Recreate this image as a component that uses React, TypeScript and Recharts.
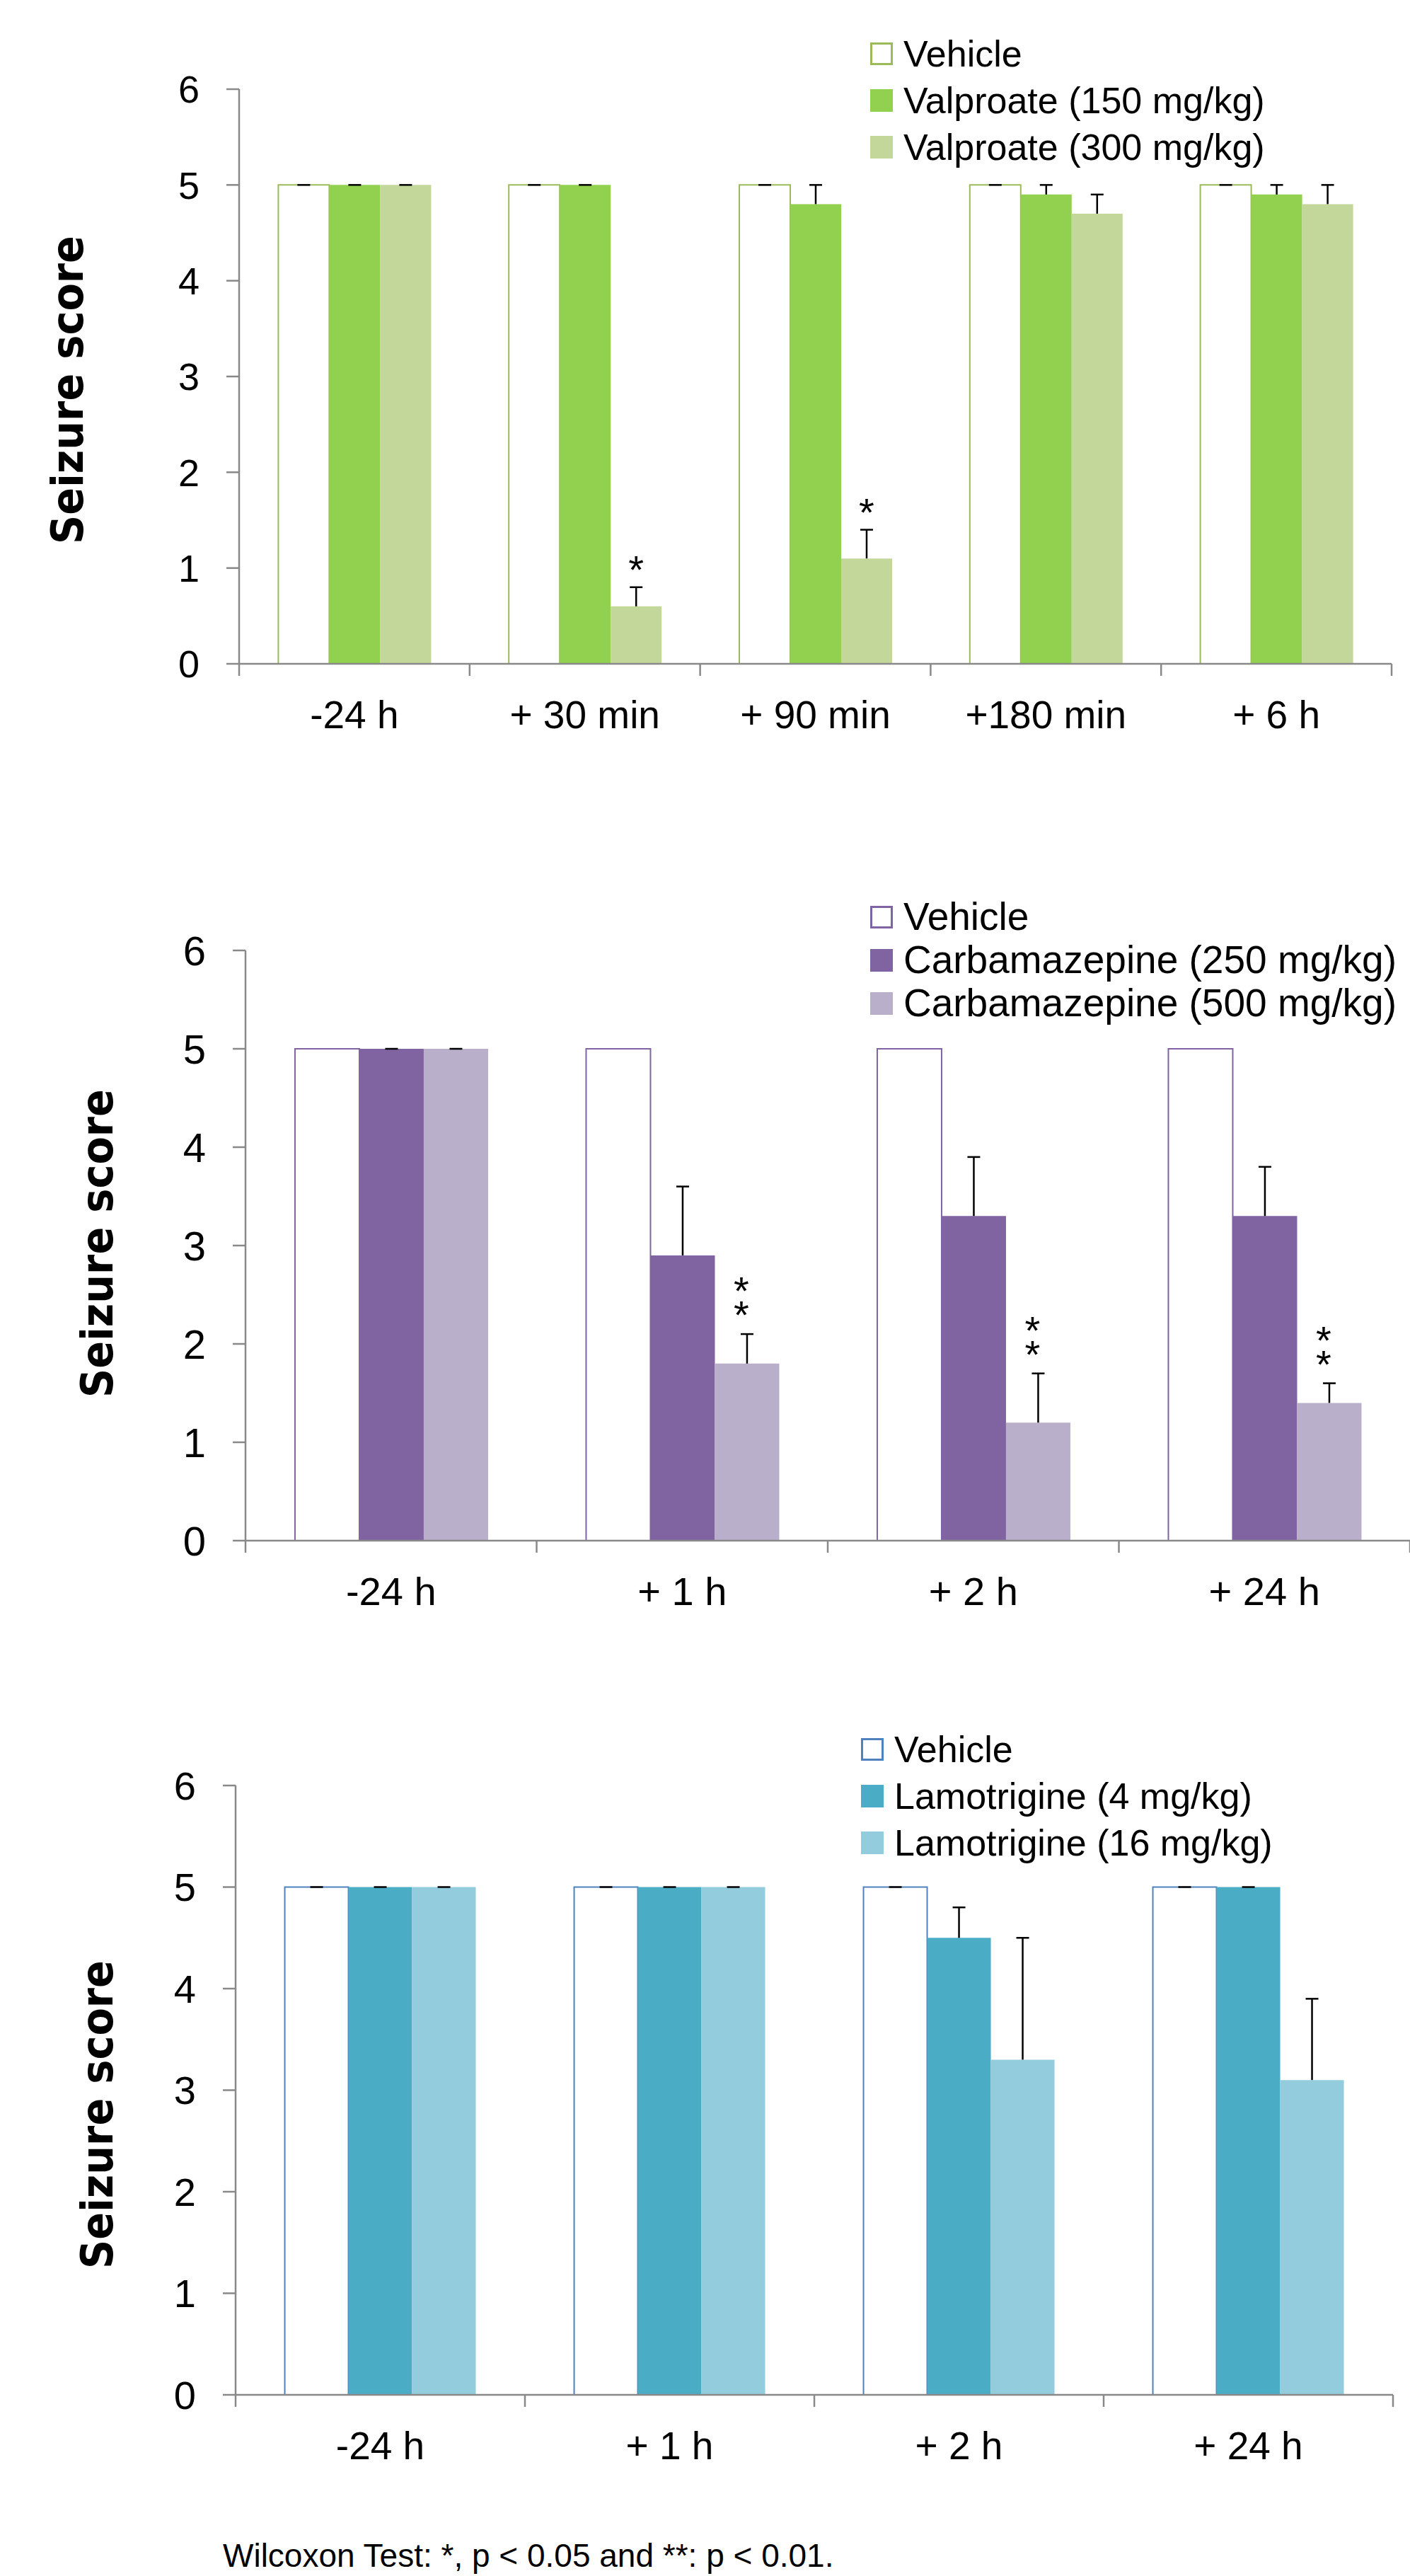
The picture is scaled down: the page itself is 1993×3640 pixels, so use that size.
import React from 'react';
import { BarChart, Bar, XAxis, YAxis, ErrorBar, LabelList, Legend } from 'recharts';

const NARROW = "'Liberation Sans Narrow', 'Liberation Sans', Arial, sans-serif";
const TITLE_FONT = "'DejaVu Sans', Verdana, sans-serif";
const AXIS_GREY = '#898989';

// valproate panel
const valCategories = ['-24 h', '+ 30 min', '+ 90 min', '+180 min', '+ 6 h'];
const valNames = ['Vehicle', 'Valproate (150 mg/kg)', 'Valproate (300 mg/kg)'];
const valVehicle = [5, 5, 5, 5, 5];
const valVehicleErr = [0, 0, 0, 0, 0];
const val150 = [5, 5, 4.8, 4.9, 4.9];
const val150Err = [0, 0, 0.2, 0.1, 0.1];
const val300 = [5, 0.6, 1.1, 4.7, 4.8];
const val300Err = [0, 0.2, 0.3, 0.2, 0.2];
const val300Stars = ['', '*', '*', '', ''];

// carbamazepine panel
const cbzCategories = ['-24 h', '+ 1 h', '+ 2 h', '+ 24 h'];
const cbzNames = ['Vehicle', 'Carbamazepine (250 mg/kg)', 'Carbamazepine (500 mg/kg)'];
const cbzVehicle = [5, 5, 5, 5];
const cbzVehicleErr = [null, null, null, null];
const cbz250 = [5, 2.9, 3.3, 3.3];
const cbz250Err = [0, 0.7, 0.6, 0.5];
const cbz500 = [5, 1.8, 1.2, 1.4];
const cbz500Err = [0, 0.3, 0.5, 0.2];
const cbz500Stars = ['', '**', '**', '**'];

// lamotrigine panel
const ltgCategories = ['-24 h', '+ 1 h', '+ 2 h', '+ 24 h'];
const ltgNames = ['Vehicle', 'Lamotrigine (4 mg/kg)', 'Lamotrigine (16 mg/kg)'];
const ltgVehicle = [5, 5, 5, 5];
const ltgVehicleErr = [0, 0, 0, 0];
const ltg4 = [5, 5, 4.5, 5];
const ltg4Err = [0, 0, 0.3, 0];
const ltg16 = [5, 5, 3.3, 3.1];
const ltg16Err = [0, 0, 1.2, 0.8];
const ltg16Stars = ['', '', '', ''];

const yTicks = [0, 1, 2, 3, 4, 5, 6];

type Panel = {
  top: number;
  height: number;
  marginTop: number;
  marginRight: number;
  axisWidth: number;
  categories: string[];
  names: string[];
  colors: string[];
  values: number[][];
  errors: (number | null)[][];
  stars: string[];
  legendLeft: number;
  legendTop: number;
  legendRow: number;
  legendFont: number;
  tickFont: number;
  catFont: number;
  titleX: number;
  titleY: number;
};

const X_AXIS_H = 140;

const panels: Panel[] = [
  {
    top: 0, height: 938 + X_AXIS_H, marginTop: 126, marginRight: 26, axisWidth: 338,
    categories: valCategories, names: valNames,
    colors: ['#9BBB59', '#92D050', '#C4D79B'],
    values: [valVehicle, val150, val300],
    errors: [valVehicleErr, val150Err, val300Err],
    stars: val300Stars,
    legendLeft: 1230, legendTop: 43, legendRow: 66, legendFont: 52,
    tickFont: 54, catFont: 55, titleX: 117, titleY: 551,
  },
  {
    top: 1200, height: 977 + X_AXIS_H, marginTop: 143, marginRight: 0, axisWidth: 347,
    categories: cbzCategories, names: cbzNames,
    colors: ['#8064A2', '#8064A2', '#B9AFCA'],
    values: [cbzVehicle, cbz250, cbz500],
    errors: [cbzVehicleErr, cbz250Err, cbz500Err],
    stars: cbz500Stars,
    legendLeft: 1230, legendTop: 65, legendRow: 61, legendFont: 55,
    tickFont: 58, catFont: 56, titleX: 159, titleY: 557,
  },
  {
    top: 2420, height: 964 + X_AXIS_H, marginTop: 103, marginRight: 24, axisWidth: 333,
    categories: ltgCategories, names: ltgNames,
    colors: ['#4F81BD', '#4BACC6', '#93CDDD'],
    values: [ltgVehicle, ltg4, ltg16],
    errors: [ltgVehicleErr, ltg4Err, ltg16Err],
    stars: ltg16Stars,
    legendLeft: 1217, legendTop: 19, legendRow: 66, legendFont: 52,
    tickFont: 56, catFont: 55, titleX: 159, titleY: 568,
  },
];

function buildRows(p: Panel) {
  return p.categories.map((cat, i) => {
    const row: any = { cat };
    p.values.forEach((vals, s) => {
      row['v' + s] = vals[i];
      const e = p.errors[s][i];
      row['e' + s] = e === null ? null : [0, e];
    });
    return row;
  });
}

function makeXTick(halfBand: number, count: number, fontSize: number) {
  return (props: any) => {
    const { x, y, payload, index } = props;
    const off = typeof payload?.offset === 'number' && payload.offset > 0 ? payload.offset : halfBand;
    return (
      <g>
        <line x1={x - off} x2={x - off} y1={y} y2={y + 17} stroke={AXIS_GREY} strokeWidth={2.5} />
        {index === count - 1 && (
          <line x1={x + off} x2={x + off} y1={y} y2={y + 17} stroke={AXIS_GREY} strokeWidth={2.5} />
        )}
        <text x={x} y={y + 91} textAnchor="middle" fontSize={fontSize} fontFamily={NARROW} fill="#000">
          {payload.value}
        </text>
      </g>
    );
  };
}

function makeStars(p: Panel) {
  const errs = p.errors[2];
  return (props: any) => {
    const vb = props.viewBox || props;
    const { index, value } = props;
    const mark = p.stars[index];
    if (!mark || !value) return null;
    const perUnit = vb.height / value;
    const errTop = vb.y - (errs[index] || 0) * perUnit;
    const cx = vb.x + vb.width / 2;
    if (mark === '*') {
      return (
        <text x={cx} y={errTop - 6} textAnchor="middle" fontSize={56} fontFamily={NARROW} fill="#000">*</text>
      );
    }
    return (
      <text textAnchor="middle" fontSize={56} fontFamily={NARROW} fill="#000">
        <tspan x={cx - 8} y={errTop - 42}>*</tspan>
        <tspan x={cx - 8} y={errTop - 8}>*</tspan>
      </text>
    );
  };
}

function makeLegend(p: Panel) {
  return () => (
    <div>
      {p.names.map((name, s) => (
        <div key={name} style={{ height: p.legendRow, display: 'flex', alignItems: 'center' }}>
          <div
            style={{
              width: s === 0 ? 26 : 32,
              height: s === 0 ? 26 : 32,
              background: s === 0 ? '#fff' : p.colors[s],
              border: s === 0 ? `3px solid ${p.colors[0]}` : 'none',
              marginRight: 15,
            }}
          />
          <span style={{ fontFamily: NARROW, fontSize: p.legendFont, color: '#000', lineHeight: 1, whiteSpace: 'nowrap' }}>
            {name}
          </span>
        </div>
      ))}
    </div>
  );
}

function SeizurePanel({ p }: { p: Panel }) {
  const rows = buildRows(p);
  const plotW = 1993 - p.axisWidth - p.marginRight;
  const halfBand = plotW / p.categories.length / 2;
  return (
    <div style={{ position: 'absolute', left: 0, top: p.top }}>
      <BarChart
        width={1993}
        height={p.height}
        data={rows}
        margin={{ top: p.marginTop, right: p.marginRight, left: 0, bottom: 0 }}
        barCategoryGap="17%"
        barGap={0}
      >
        <XAxis
          dataKey="cat"
          height={X_AXIS_H}
          interval={0}
          tickLine={false}
          tickSize={0}
          tickMargin={0}
          axisLine={{ stroke: AXIS_GREY, strokeWidth: 2.5 }}
          tick={makeXTick(halfBand, p.categories.length, p.catFont)}
        />
        <YAxis
          width={p.axisWidth}
          domain={[0, 6]}
          ticks={yTicks}
          interval={0}
          tickSize={18}
          tickMargin={38}
          axisLine={{ stroke: AXIS_GREY, strokeWidth: 2.5 }}
          tickLine={{ stroke: AXIS_GREY, strokeWidth: 2.5 }}
          tick={{ fill: '#000', fontSize: p.tickFont, fontFamily: NARROW }}
          label={{
            content: () => (
              <text
                transform={`translate(${p.titleX}, ${p.titleY}) rotate(-90)`}
                textAnchor="middle"
                fontFamily={TITLE_FONT}
                fontWeight="bold"
                fontSize={62}
                textLength={436}
                lengthAdjust="spacingAndGlyphs"
                fill="#000"
              >
                Seizure score
              </text>
            ),
          }}
        />
        <Legend
          layout="vertical"
          align="center"
          verticalAlign="middle"
          content={makeLegend(p)}
          wrapperStyle={{ left: p.legendLeft, top: p.legendTop, width: 'auto' }}
        />
        {[0, 1, 2].map((s) => (
          <Bar
            key={s}
            dataKey={'v' + s}
            name={p.names[s]}
            fill={s === 0 ? '#fff' : p.colors[s]}
            stroke={s === 0 ? p.colors[0] : 'none'}
            strokeWidth={s === 0 ? 2 : 0}
            isAnimationActive={false}
          >
            <ErrorBar dataKey={'e' + s} direction="y" width={9} stroke="#000" strokeWidth={2.5} isAnimationActive={false} />
            {s === 2 && <LabelList dataKey="v2" content={makeStars(p)} />}
          </Bar>
        ))}
      </BarChart>
    </div>
  );
}

export default function App() {
  return (
    <div style={{ position: 'relative', width: 1993, height: 3640, background: '#fff', overflow: 'hidden' }}>
      <style>{`body{margin:0} .recharts-errorBar line:nth-of-type(3){display:none}`}</style>
      {panels.map((p, i) => (
        <SeizurePanel key={i} p={p} />
      ))}
      <div
        style={{
          position: 'absolute',
          left: 315,
          top: 3588,
          fontFamily: NARROW,
          fontSize: 46,
          lineHeight: 1,
          color: '#000',
          whiteSpace: 'nowrap',
        }}
      >
        Wilcoxon Test: *, p &lt; 0.05 and **: p &lt; 0.01.
      </div>
    </div>
  );
}
